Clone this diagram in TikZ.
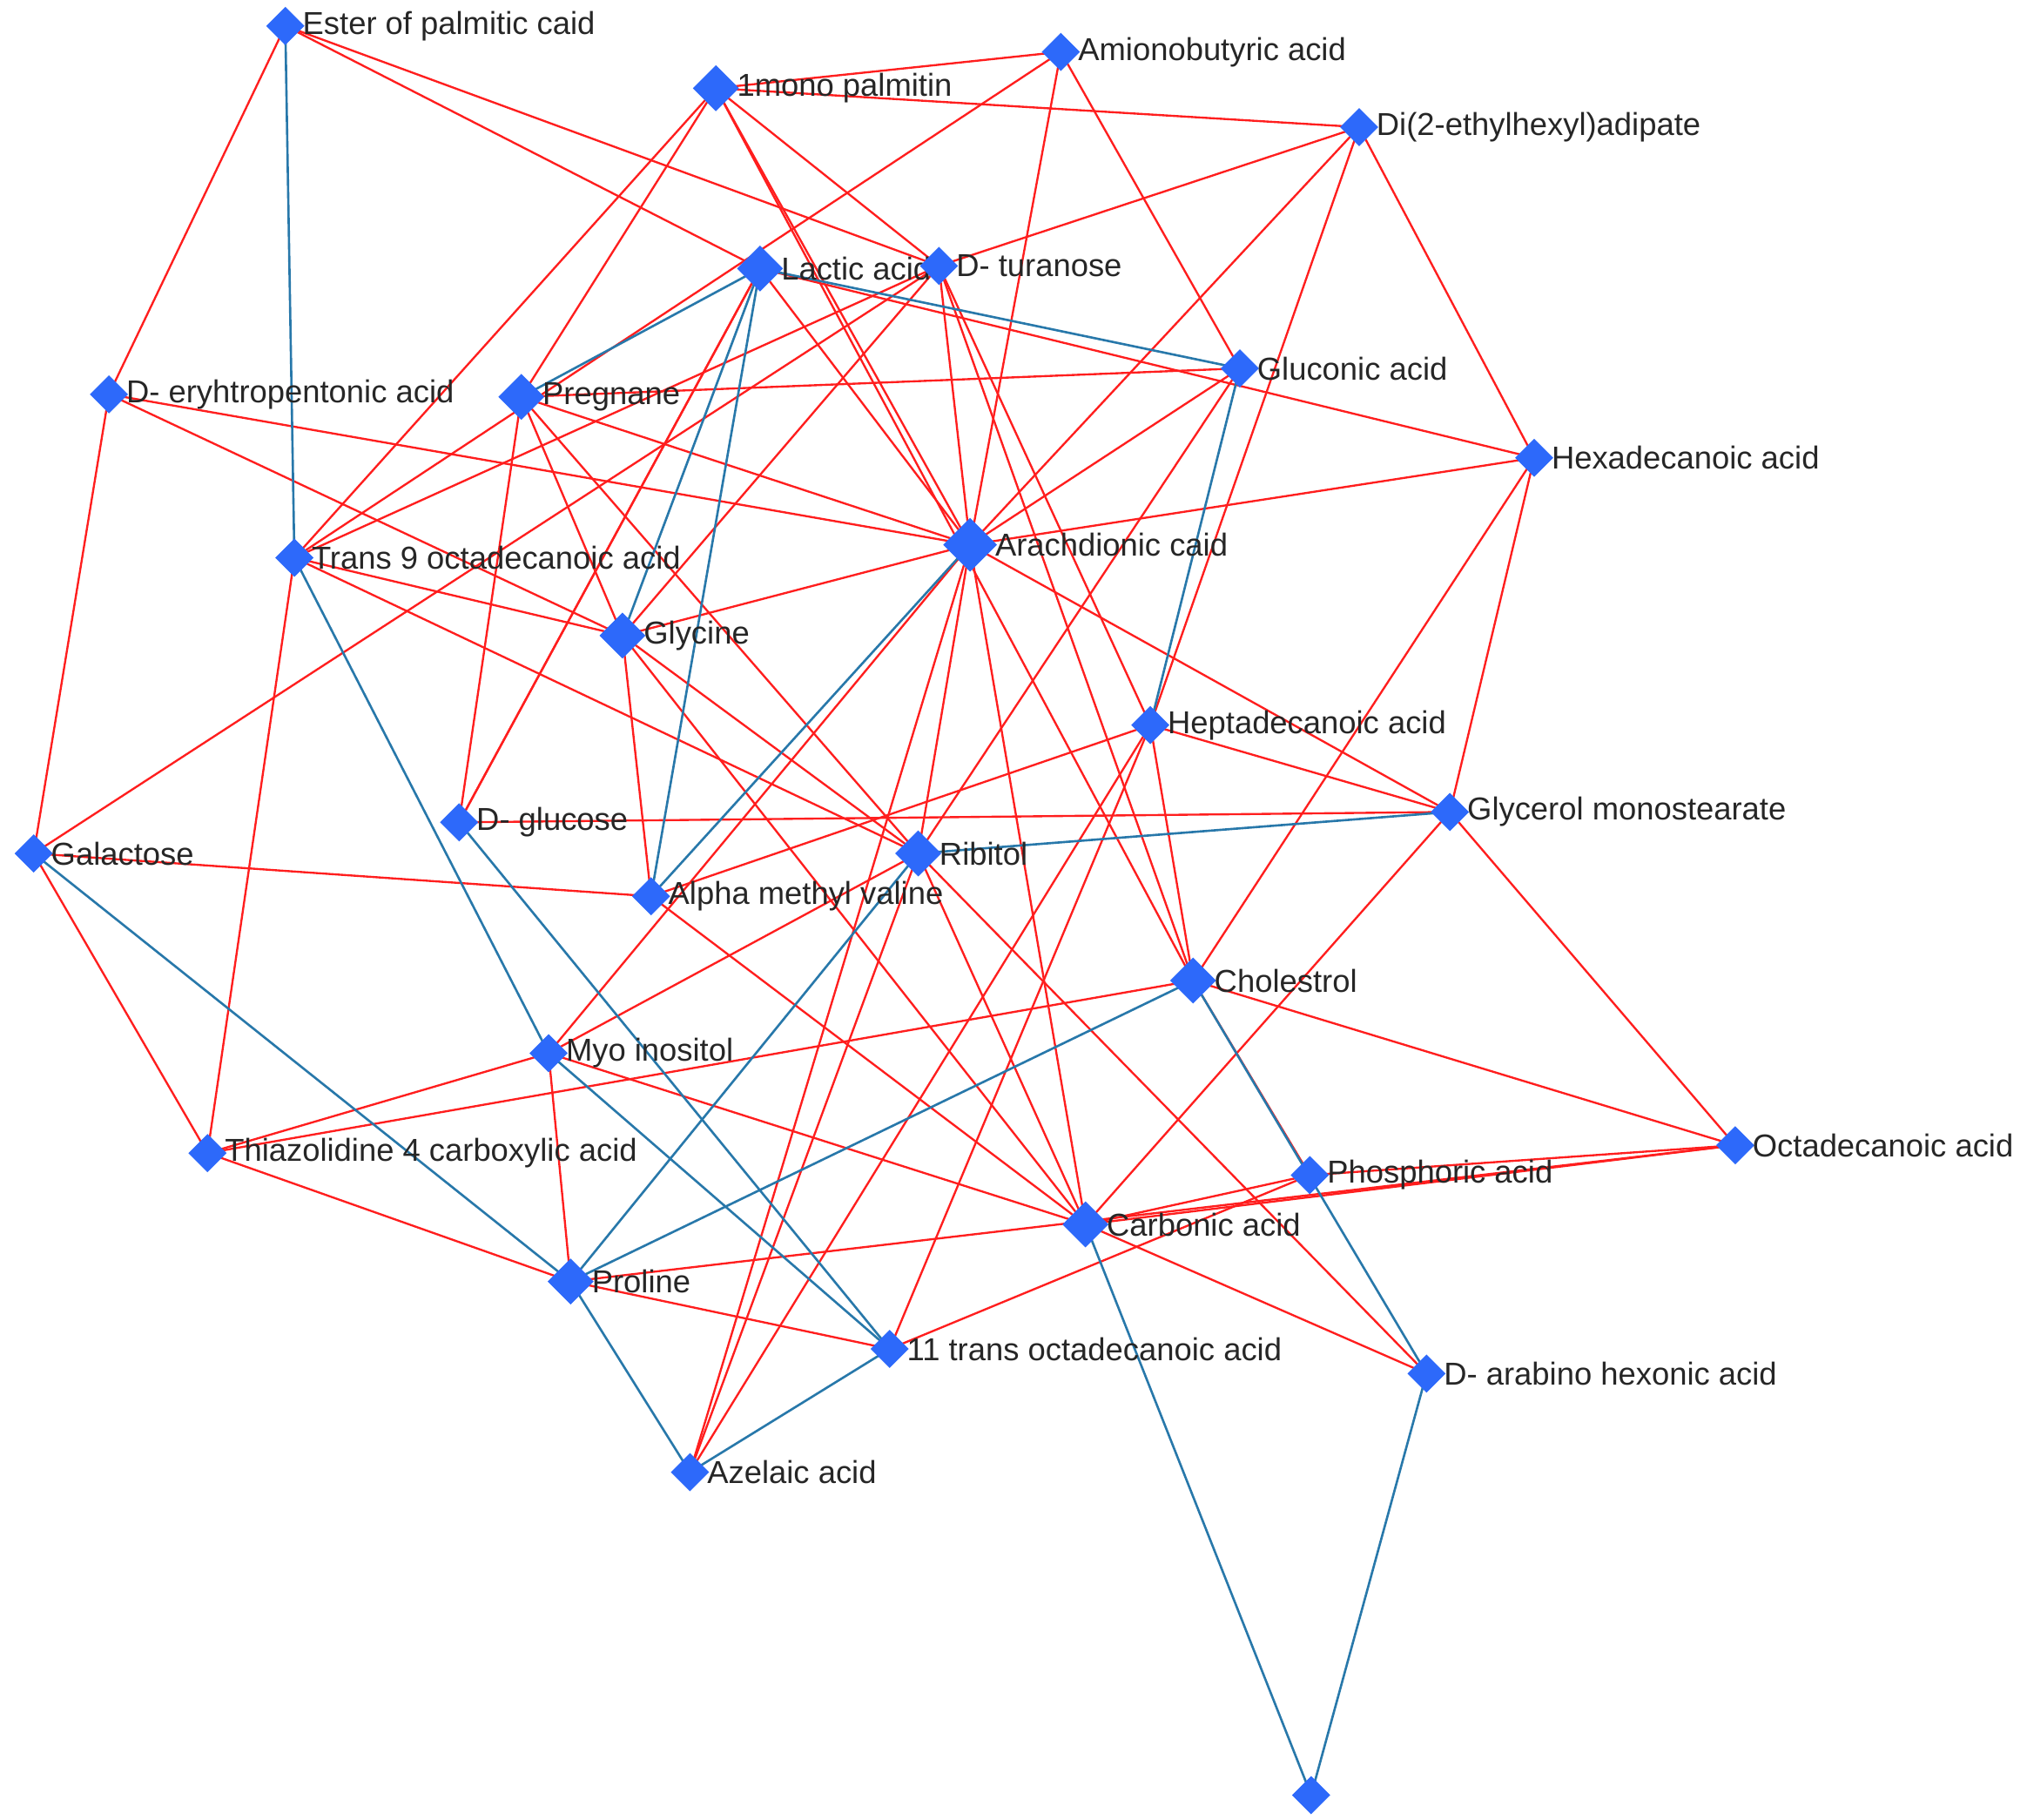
\documentclass[tikz,border=0pt]{standalone}
\usepackage{fontspec}
\setmainfont{Liberation Sans}
\usetikzlibrary{shapes.geometric}
\definecolor{er}{RGB}{255,30,30}
\definecolor{eb}{RGB}{40,120,170}
\definecolor{nb}{RGB}{45,105,250}
\tikzset{
 nd/.style={diamond,fill=nb,inner sep=0pt,minimum size=0.3cm},
 bignd/.style={nd,minimum size=0.42cm},
 midnd/.style={nd,minimum size=0.36cm},
 lb/.style={anchor=west,inner sep=0pt,font=\fontsize{6.95}{7.5}\selectfont,text=black!85},
 re/.style={draw=er,line width=0.45pt},
 be/.style={draw=eb,line width=0.5pt}
}
\begin{document}
\begin{tikzpicture}[x=0.01cm,y=-0.01cm]
\useasboundingbox (0,0) rectangle (1563,1402.6);
\foreach \n/\x/\y/\t/\s in {
EP/220/20/Ester of palmitic caid/nd,
MP/552/68/1mono palmitin/midnd,
AB/818/40/Amionobutyric acid/nd,
DA/1048/98/Di(2-ethylhexyl)adipate/nd,
LA/586/207/Lactic acid/midnd,
DT/724/205/D- turanose/nd,
GA/956/284/Gluconic acid/nd,
ER/84/304/D- eryhtropentonic acid/nd,
PR/402/306/Pregnane/midnd,
HA/1183/353/Hexadecanoic acid/nd,
AR/748/420/Arachdionic caid/bignd,
T9/227/430/Trans 9 octadecanoic acid/nd,
GY/480/490/Glycine/midnd,
HE/887/559/Heptadecanoic acid/nd,
GM/1118/626/Glycerol monostearate/nd,
DG/354/634/D- glucose/nd,
GL/26/658/Galactose/nd,
RI/708/658/Ribitol/midnd,
AM/502/691/Alpha methyl valine/nd,
CH/920/756/Cholestrol/midnd,
MI/423/812/Myo inositol/nd,
OA/1338/883/Octadecanoic acid/nd,
TZ/160/889/Thiazolidine 4 carboxylic acid/nd,
PA/1010/906/Phosphoric acid/nd,
CA/837/944/Carbonic acid/midnd,
PO/440/988/Proline/midnd,
TO/686/1040/11 trans octadecanoic acid/nd,
DB/1100/1059/D- arabino hexonic acid/nd,
AZ/532/1135/Azelaic acid/nd}
{\coordinate (\n) at (\x,\y);}
\coordinate (UN) at (1011,1384);
% red edges
\foreach \a/\b in {EP/ER,EP/LA,EP/DT,MP/AB,MP/DA,MP/PR,MP/T9,MP/DT,MP/AR,MP/CH,
AB/T9,AB/AR,AB/GA,DA/DT,DA/AR,DA/HE,DA/HA,LA/HA,LA/AR,LA/DG,GL/DT,
GY/PR,GY/T9,ER/GY,ER/AR,ER/GL,GY/AR,GY/DT,GY/AM,GY/RI,GY/CA,
PR/GA,PR/AR,PR/DG,PR/RI,T9/RI,T9/TZ,T9/DT,
AR/HA,AR/GA,AR/RI,AR/GM,AR/CA,AR/MI,AR/AZ,GA/RI,
HA/CH,HA/GM,HE/AM,HE/GM,HE/CH,HE/TO,HE/AZ,DT/AR,DT/CH,DT/HE,
GM/DG,GM/OA,GM/CA,DG/LA,GL/AM,GL/TZ,RI/AZ,RI/CA,RI/DB,RI/MI,
AM/CA,CH/TZ,CH/OA,CH/PA,MI/TZ,MI/PO,MI/CA,TZ/PO,PA/OA,PA/TO,PA/CA,
OA/PO,OA/CA,CA/DB,PO/TO}
{\draw[re] (\a) -- (\b);}
% blue edges
\foreach \a/\b in {EP/T9,LA/PR,LA/GA,LA/GY,LA/AM,AR/AM,GA/HE,GM/RI,DG/TO,
GL/PO,RI/PO,CH/PO,CH/DB,MI/TO,T9/MI,CA/UN,DB/UN,PO/AZ,TO/AZ}
{\draw[be] (\a) -- (\b);}
\foreach \n/\x/\y/\t/\s in {
EP/220/20/Ester of palmitic caid/nd,
MP/552/68/1mono palmitin/midnd,
AB/818/40/Amionobutyric acid/nd,
DA/1048/98/Di(2-ethylhexyl)adipate/nd,
LA/586/207/Lactic acid/midnd,
DT/724/205/D- turanose/nd,
GA/956/284/Gluconic acid/nd,
ER/84/304/D- eryhtropentonic acid/nd,
PR/402/306/Pregnane/midnd,
HA/1183/353/Hexadecanoic acid/nd,
AR/748/420/Arachdionic caid/bignd,
T9/227/430/Trans 9 octadecanoic acid/nd,
GY/480/490/Glycine/midnd,
HE/887/559/Heptadecanoic acid/nd,
GM/1118/626/Glycerol monostearate/nd,
DG/354/634/D- glucose/nd,
GL/26/658/Galactose/nd,
RI/708/658/Ribitol/midnd,
AM/502/691/Alpha methyl valine/nd,
CH/920/756/Cholestrol/midnd,
MI/423/812/Myo inositol/nd,
OA/1338/883/Octadecanoic acid/nd,
TZ/160/889/Thiazolidine 4 carboxylic acid/nd,
PA/1010/906/Phosphoric acid/nd,
CA/837/944/Carbonic acid/midnd,
PO/440/988/Proline/midnd,
TO/686/1040/11 trans octadecanoic acid/nd,
DB/1100/1059/D- arabino hexonic acid/nd,
AZ/532/1135/Azelaic acid/nd}
{\node[\s] (\n-d) at (\n) {};
 \node[lb] (\n-l) at ([xshift=-0.03cm]\n-d.east) {\t};}
\node[nd] (UN-d) at (UN) {};
\end{tikzpicture}
\end{document}
